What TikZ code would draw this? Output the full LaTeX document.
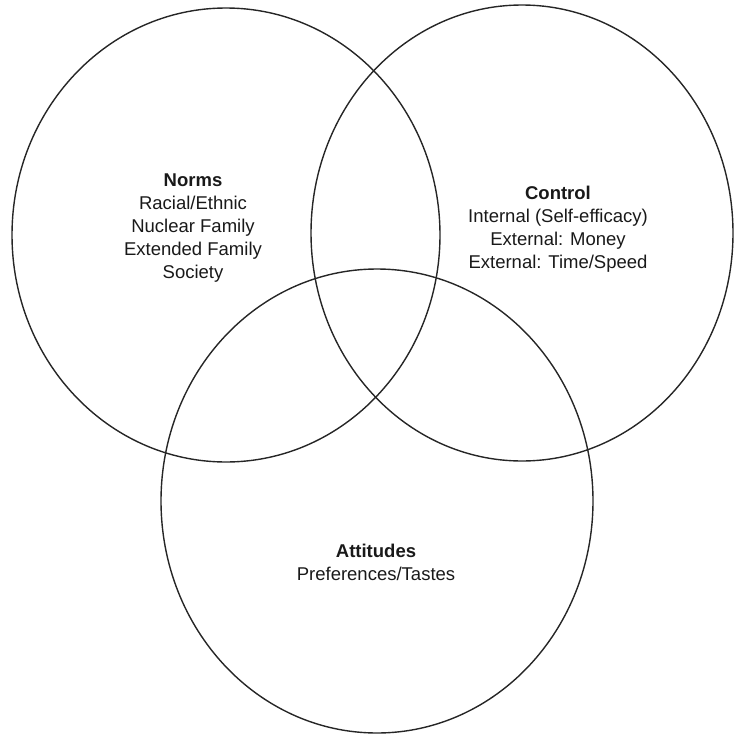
\documentclass[tikz,border=0pt]{standalone}
\usepackage{fontspec}
\setmainfont{Liberation Sans}
\usetikzlibrary{shapes.geometric}
\begin{document}
\begin{tikzpicture}[x=1pt,y=-1pt,
  venn/.style={draw=black!85,line width=1.4pt,ellipse,inner sep=0pt},
  label/.style={align=center,font=\fontsize{18.5}{23}\selectfont,inner sep=0pt,text=black!90}]
\useasboundingbox (0,0) rectangle (735,739);
\node[venn,minimum width=428pt,minimum height=454pt] (norms) at (226,235) {};
\node[venn,minimum width=422pt,minimum height=456pt] (control) at (522,233) {};
\node[venn,minimum width=432pt,minimum height=464pt] (attitudes) at (377,501) {};
\node[label,anchor=north] (tn) at (193,174) {\textbf{Norms}\\Racial/Ethnic\\Nuclear Family\\Extended Family\\Society};
\node[label,anchor=north] (tc) at (558,186) {\textbf{Control}\\Internal (Self-efficacy)\\External: Money\\External: Time/Speed};
\node[label,anchor=north] (ta) at (376,544) {\textbf{Attitudes}\\Preferences/Tastes};
\end{tikzpicture}
\end{document}
